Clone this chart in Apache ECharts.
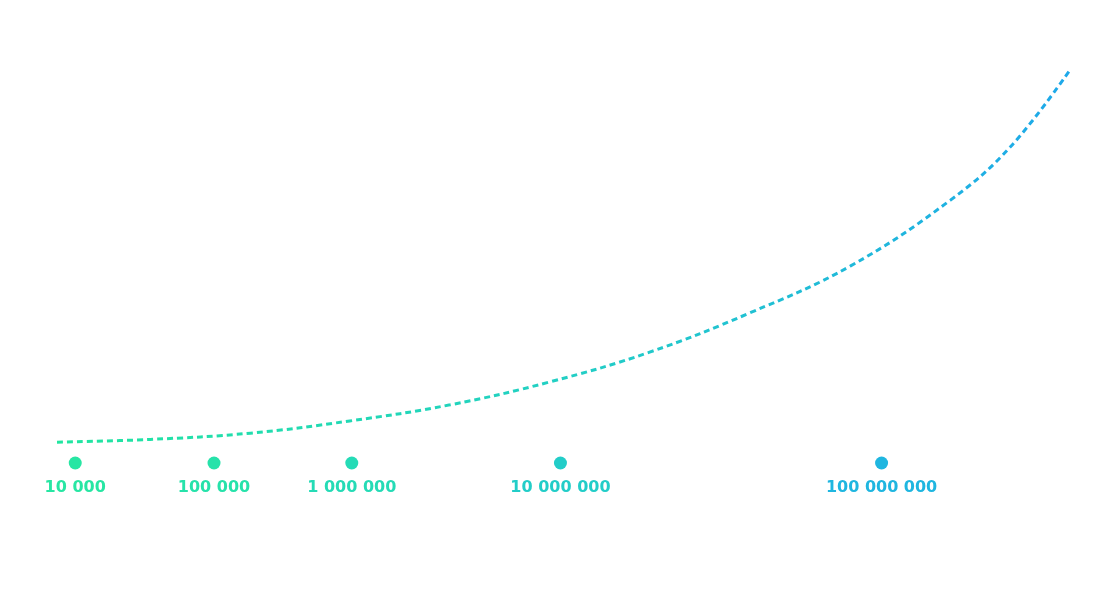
<!DOCTYPE html>
<html>
<head>
<meta charset="utf-8">
<script src="https://cdn.jsdelivr.net/npm/echarts@6/dist/echarts.min.js"></script>
<style>
  html, body { margin: 0; padding: 0; background: #fff; }
  #chart { width: 1110px; height: 590px; }
</style>
</head>
<body>
<div id="chart"></div>
<script>
// growth curve (abstract position 0-100, height 0-100)
const curveX = [0, 9.2, 19.1, 28.9, 38.8, 48.6, 58.5, 68.4, 78.3, 88.2, 94.1, 100];
const curveY = [5.3, 6.0, 7.6, 10.7, 14.8, 20.6, 28.2, 38.2, 50.1, 66.9, 80.4, 100];

// milestone markers along the baseline
const milestoneLabels = ['10 000', '100 000', '1 000 000', '10 000 000', '100 000 000'];
const milestoneX = [1.8, 15.5, 29.1, 49.7, 81.4];
const milestoneColors = ['#27e6a3', '#26e2aa', '#25dbb6', '#22cdc8', '#1fb6e0'];

const chart = echarts.init(document.getElementById('chart'));

const option = {
    animation: false,
    grid: { left: 57, right: 40, top: 70, bottom: 127 },
    xAxis: { type: 'value', min: 0, max: 100, show: false },
    yAxis: { type: 'value', min: 0, max: 100, show: false },
    series: [
        {
            type: 'line',
            smooth: 0.4,
            symbol: 'none',
            data: curveX.map((x, i) => [x, curveY[i]]),
            lineStyle: {
                width: 3,
                type: [6, 4],
                color: new echarts.graphic.LinearGradient(0, 0, 1, 0, [
                    { offset: 0, color: '#22e6a0' },
                    { offset: 0.5, color: '#22cfc4' },
                    { offset: 1, color: '#1ea8ea' }
                ])
            }
        },
        {
            type: 'scatter',
            symbolSize: 13,
            data: milestoneX.map((x, i) => ({
                value: [x, 0],
                itemStyle: { color: milestoneColors[i], opacity: 1 },
                label: { color: milestoneColors[i] }
            })),
            label: {
                show: true,
                position: 'bottom',
                distance: 10,
                formatter: p => milestoneLabels[p.dataIndex],
                fontFamily: 'DejaVu Sans',
                fontWeight: 'bold',
                fontSize: 16
            }
        }
    ]
};

chart.setOption(option);
</script>
</body>
</html>
